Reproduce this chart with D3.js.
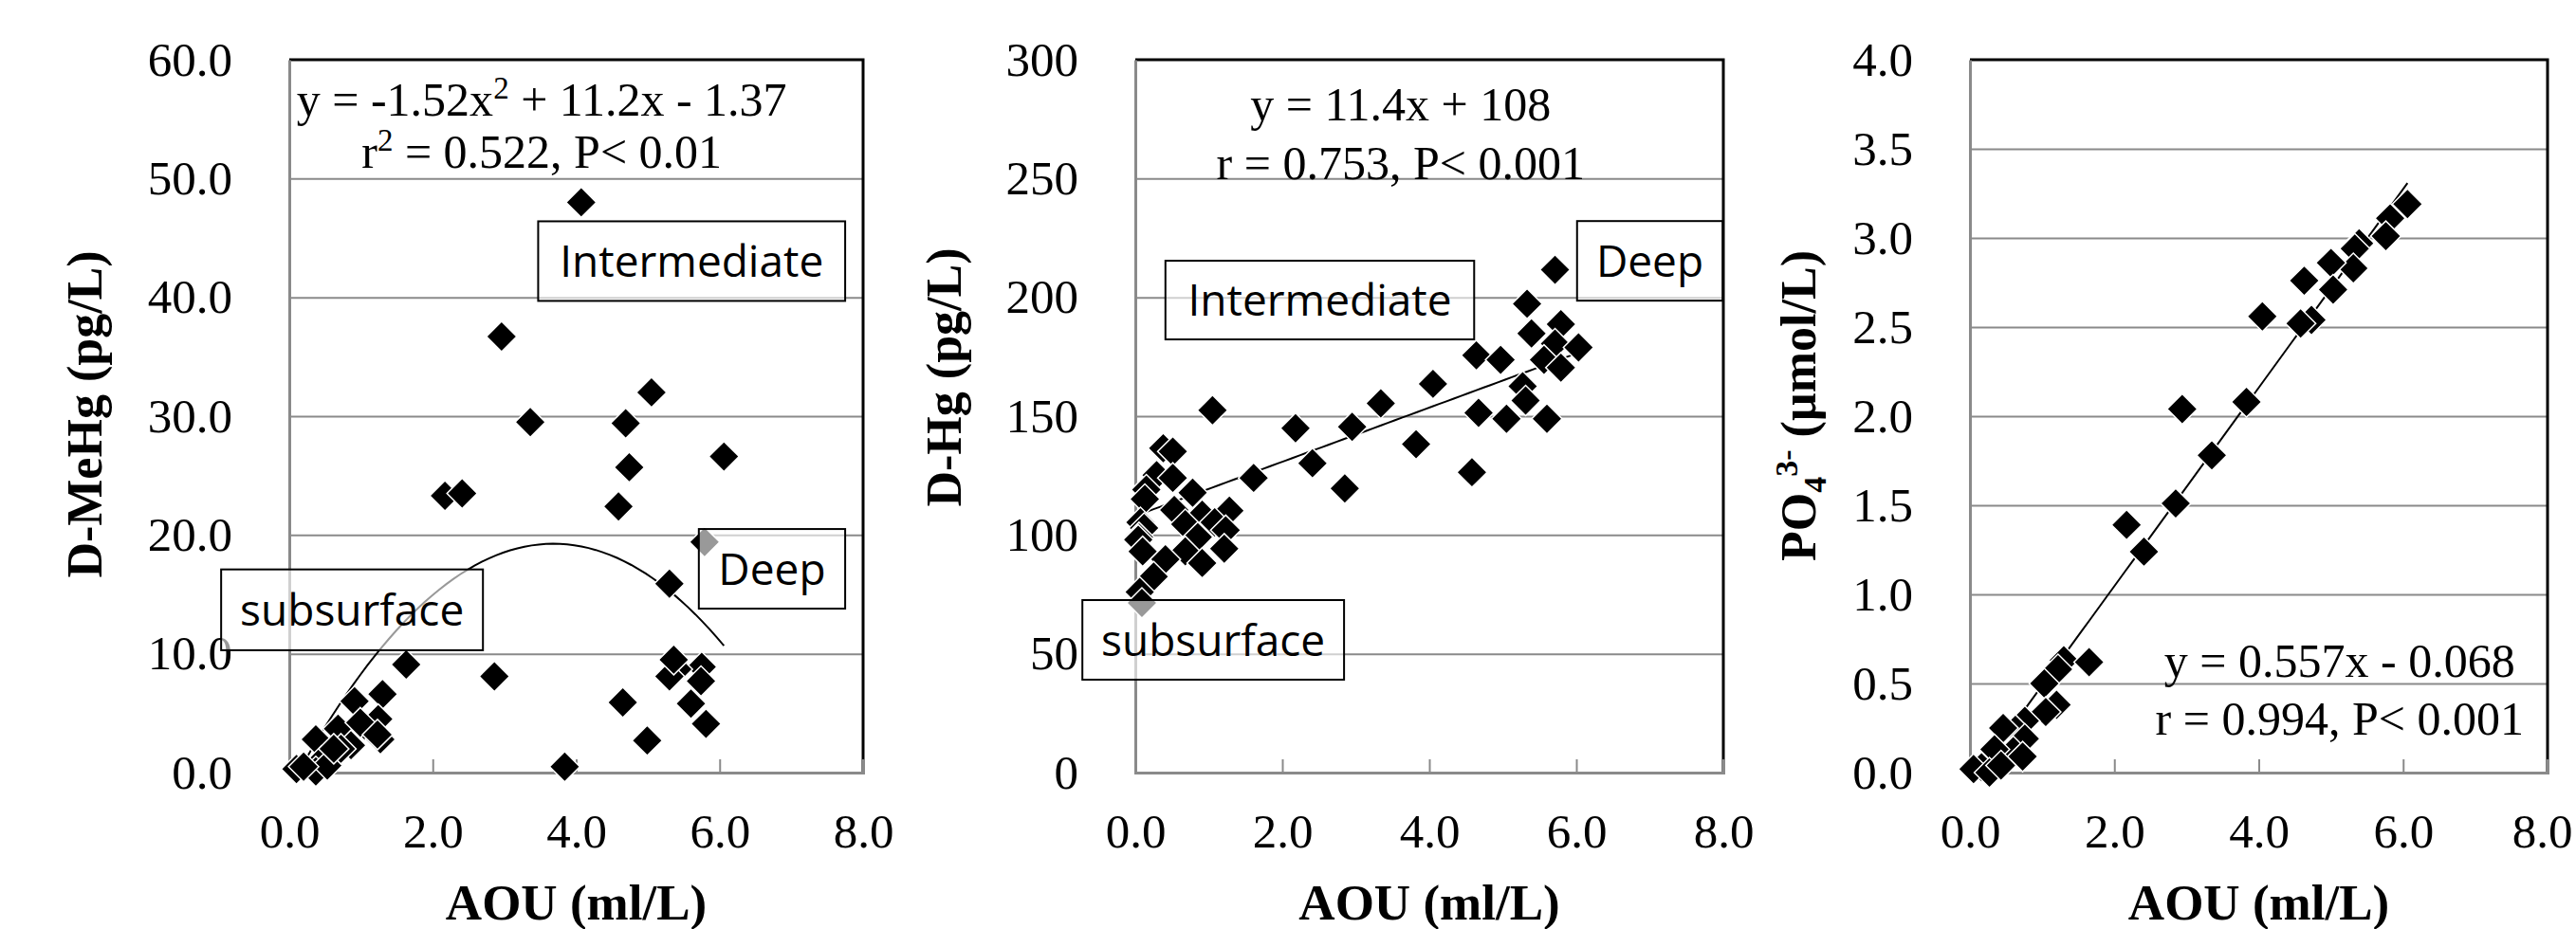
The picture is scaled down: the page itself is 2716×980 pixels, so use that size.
<!DOCTYPE html>
<html>
<head>
<meta charset="utf-8">
<script src="https://cdn.jsdelivr.net/npm/d3@7"></script>
<style>
  body { margin: 0; background: #fff; }
</style>
</head>
<body>
<div id="chart"></div>
<script>
// x axis is AOU (ml/L) for all three panels
const xTicks = [0, 2, 4, 6, 8]

// panel 1 - dissolved MeHg (pg/L)
const mehgAou = [4.07, 2.96, 3.36, 5.05, 4.69, 4.74, 6.06, 4.59, 2.17, 2.41,
  5.79, 5.30, 1.63, 2.86, 4.65, 4.99, 3.84, 5.81, 5.60, 5.75,
  5.41, 5.30, 5.36, 5.74, 1.30, 0.91, 1.06, 1.24, 1.27, 0.37,
  0.68, 0.86, 0.59, 0.45, 0.10, 0.37, 0.53, 0.20, 0.72, 0.99,
  0.62, 1.23]
const mehgVal = [48.0, 36.7, 29.5, 32.0, 29.4, 25.7, 26.6, 22.4, 23.3, 23.5,
  19.4, 15.9, 9.1, 8.1, 5.9, 2.7, 0.5, 4.1, 5.8, 8.9,
  8.7, 8.1, 9.5, 7.7, 6.6, 6.0, 3.9, 4.5, 2.8, 2.8,
  3.7, 2.3, 1.6, 1.0, 0.3, 0.1, 0.6, 0.5, 2.0, 4.2,
  2.0, 3.2]
const mehgTicks = [0, 10, 20, 30, 40, 50, 60]
const mehgFit = [-1.52, 11.2, -1.37]

// panel 2 - dissolved Hg (pg/L)
const hgAou = [5.71, 5.33, 5.79, 5.39, 5.71, 6.03, 5.56, 5.79, 4.64, 4.97,
  4.05, 5.27, 5.31, 4.67, 5.05, 5.60, 3.34, 1.05, 2.18, 2.95,
  3.82, 2.41, 1.61, 2.85, 4.58, 0.38, 0.51, 0.29, 0.51, 0.15,
  0.13, 0.78, 1.28, 0.53, 0.91, 0.07, 0.68, 1.08, 0.85, 1.23,
  0.12, 0.05, 0.04, 1.21, 0.68, 0.10, 0.41, 0.91, 0.25, 0.06,
  0.09]
const hgVal = [211.6, 197.3, 188.7, 184.8, 180.5, 178.9, 173.7, 170.4, 175.6, 173.7,
  163.6, 162.6, 156.6, 151.4, 148.9, 148.9, 155.4, 152.5, 144.9, 145.5,
  138.2, 130.2, 124.0, 119.6, 126.4, 136.5, 135.1, 125.2, 124.0, 119.1,
  115.1, 117.8, 110.2, 110.5, 108.5, 105.3, 104.5, 105.3, 99.1, 102.0,
  102.9, 99.0, 98.0, 94.2, 93.1, 93.1, 89.8, 88.2, 82.5, 76.0,
  71.4]
const hgTicks = [0, 50, 100, 150, 200, 250, 300]
const hgFit = [0, 11.4, 108]

// panel 3 - phosphate (umol/L)
const po4Aou = [6.06, 5.82, 5.76, 5.39, 5.33, 5.31, 5.00, 4.63, 5.03, 4.05,
  4.73, 4.58, 3.83, 2.94, 3.35, 2.85, 2.17, 2.41, 1.30, 1.65,
  1.22, 1.03, 1.20, 1.05, 0.76, 0.63, 0.46, 0.76, 0.60, 0.73,
  0.34, 0.16, 0.05, 0.27, 0.43]
const po4Val = [3.19, 3.11, 3.01, 2.97, 2.94, 2.83, 2.86, 2.76, 2.71, 2.56,
  2.54, 2.52, 2.08, 2.04, 1.78, 1.51, 1.39, 1.24, 0.63, 0.62,
  0.58, 0.50, 0.38, 0.34, 0.29, 0.24, 0.25, 0.19, 0.12, 0.09,
  0.13, 0.03, 0.02, 0.00, 0.04]
const po4Ticks = [0, 0.5, 1, 1.5, 2, 2.5, 3, 3.5, 4]
const po4Fit = [0, 0.557, -0.068]

const W = 2716, H = 980
const plotTop = 63, plotBottom = 815
const serif = "'Liberation Serif', 'Times New Roman', serif"
const sans = "'Open Sans', 'Noto Sans', sans-serif"
const gridGray = "#8a8a8a"
const tickSize = 51

const svg = d3.select("#chart").append("svg")
  .attr("width", W).attr("height", H)
svg.append("rect").attr("width", W).attr("height", H).attr("fill", "#fff")

// text pieces are [string, kind]: "" normal, "sup", "sub", "supAfterSub", "back"
const panels = [
  {
    xs: mehgAou, ys: mehgVal, yTicks: mehgTicks, fmt: d3.format(".1f"), fit: mehgFit,
    left: 305, right: 910, titleX: 89, titleY: 437,
    title: [["D-MeHg (pg/L)", ""]],
    eq: { x: 3.52, y: [55.3, 50.9], lines: [
      [["y = -1.52x", ""], ["2", "sup"], [" + 11.2x - 1.37", "back"]],
      [["r", ""], ["2", "sup"], [" = 0.522, P< 0.01", "back"]]] },
    boxes: [
      { text: "Intermediate", x0: 3.47, x1: 7.75, y0: 39.7, y1: 46.4 },
      { text: "Deep", x0: 5.71, x1: 7.75, y0: 13.8, y1: 20.5 },
      { text: "subsurface", x0: -0.95, x1: 2.70, y0: 10.3, y1: 17.1 }
    ]
  },
  {
    xs: hgAou, ys: hgVal, yTicks: hgTicks, fmt: d3.format("d"), fit: hgFit,
    left: 1197, right: 1817, titleX: 995, titleY: 398,
    title: [["D-Hg (pg/L)", ""]],
    eq: { x: 3.61, y: [274.4, 249.7], lines: [
      [["y = 11.4x + 108", ""]],
      [["r = 0.753, P< 0.001", ""]]] },
    boxes: [
      { text: "Intermediate", x0: 0.41, x1: 4.61, y0: 182.3, y1: 215.4 },
      { text: "Deep", x0: 6.01, x1: 7.99, y0: 198.6, y1: 232.1 },
      { text: "subsurface", x0: -0.72, x1: 2.84, y0: 39.1, y1: 72.6 }
    ]
  },
  {
    xs: po4Aou, ys: po4Val, yTicks: po4Ticks, fmt: d3.format(".1f"), fit: po4Fit,
    left: 2077, right: 2686, titleX: 1896, titleY: 428,
    title: [["PO", ""], ["4", "sub"], ["3-", "supAfterSub"], [" (\u00b5mol/L)", "back"]],
    eq: { x: 5.12, y: [0.537, 0.213], lines: [
      [["y = 0.557x - 0.068", ""]],
      [["r = 0.994, P< 0.001", ""]]] },
    boxes: []
  }
]

function writeRuns(sel, runs, size) {
  const small = Math.round(size * 0.66)
  const up = size * 0.36, down = size * 0.2
  let shift = 0
  runs.forEach(([t, kind]) => {
    const ts = sel.append("tspan").text(t)
    if (kind === "sup") { ts.attr("dy", -up).attr("font-size", small); shift = -up }
    if (kind === "sub") { ts.attr("dy", down).attr("font-size", small); shift = down }
    if (kind === "supAfterSub") { ts.attr("dy", -up - shift).attr("font-size", small); shift = -up }
    if (kind === "back") { ts.attr("dy", -shift); shift = 0 }
  })
}

panels.forEach((p, i) => {
  const w = p.right - p.left
  const x = d3.scaleLinear().domain([0, 8]).range([p.left, p.right])
  const yMax = p.yTicks[p.yTicks.length - 1]
  const y = d3.scaleLinear().domain([0, yMax]).range([plotBottom, plotTop])
  const g = svg.append("g")

  svg.append("clipPath").attr("id", "clip" + i)
    .append("rect").attr("x", p.left).attr("y", plotTop)
    .attr("width", w).attr("height", plotBottom - plotTop)

  // horizontal gridlines
  g.append("g")
    .attr("transform", `translate(${p.left},0)`)
    .call(d3.axisLeft(y).tickValues(p.yTicks.slice(1, -1)).tickSize(-w).tickFormat(""))
    .call(a => a.select(".domain").remove())
    .selectAll("line").attr("stroke", gridGray).attr("stroke-width", 2)

  // black top/right frame
  g.append("path")
    .attr("d", `M${p.left},${plotTop}H${p.right}V${plotBottom}`)
    .attr("fill", "none").attr("stroke", "#000").attr("stroke-width", 3)

  // y axis
  g.append("g")
    .attr("transform", `translate(${p.left},0)`)
    .call(d3.axisLeft(y).tickValues(p.yTicks).tickFormat(p.fmt).tickSize(0).tickPadding(60))
    .call(a => a.select(".domain").attr("stroke", gridGray).attr("stroke-width", 3))
    .selectAll("text").attr("font-family", serif).attr("font-size", tickSize).attr("fill", "#000")

  // x axis, ticks pointing inwards
  const xa = g.append("g")
    .attr("transform", `translate(0,${plotBottom})`)
    .call(d3.axisBottom(x).tickValues(xTicks).tickFormat(d3.format(".1f")).tickSize(-14).tickPadding(43))
    .call(a => a.select(".domain").attr("stroke", gridGray).attr("stroke-width", 3))
    .call(a => a.selectAll("line").attr("stroke", gridGray).attr("stroke-width", 2))
  xa.selectAll("text").attr("font-family", serif).attr("font-size", tickSize).attr("fill", "#000")
  // keep the last label inside the page
  xa.selectAll("text").each(function(d) {
    const over = x(d) + this.getComputedTextLength() / 2 - (W - 4)
    if (over > 0) d3.select(this).attr("dx", -over)
  })

  // axis titles
  g.append("text")
    .attr("x", (p.left + p.right) / 2).attr("y", 970)
    .attr("text-anchor", "middle")
    .attr("font-family", serif).attr("font-size", 53).attr("font-weight", "bold")
    .text("AOU (ml/L)")

  const yt = g.append("text")
    .attr("transform", `translate(${p.titleX},${p.titleY}) rotate(-90)`)
    .attr("text-anchor", "middle").attr("dy", "0.35em")
    .attr("font-family", serif).attr("font-size", 52).attr("font-weight", "bold")
  writeRuns(yt, p.title, 52)

  // trend line
  const [a2, a1, a0] = p.fit
  const lo = d3.min(p.xs), hi = d3.max(p.xs)
  const fitPts = d3.range(0, 61).map(k => {
    const xv = lo + (hi - lo) * k / 60
    return [xv, a2 * xv * xv + a1 * xv + a0]
  })
  g.append("path")
    .attr("clip-path", `url(#clip${i})`)
    .attr("d", d3.line().x(d => x(d[0])).y(d => y(d[1]))(fitPts))
    .attr("fill", "none").attr("stroke", "#000").attr("stroke-width", 2)

  // diamond markers
  const diamond = d3.symbol().type(d3.symbolSquare).size(512)
  g.append("g").selectAll("path")
    .data(d3.zip(p.xs, p.ys))
    .join("path")
    .attr("d", diamond)
    .attr("transform", d => `translate(${x(d[0])},${y(d[1])}) rotate(45)`)
    .attr("fill", "#000").attr("stroke", "#fff").attr("stroke-width", 1.5)

  // region labels, half transparent boxes
  p.boxes.forEach(b => {
    g.append("rect")
      .attr("x", x(b.x0)).attr("y", y(b.y1))
      .attr("width", x(b.x1) - x(b.x0)).attr("height", y(b.y0) - y(b.y1))
      .attr("fill", "#fff").attr("fill-opacity", 0.6)
      .attr("stroke", "#000").attr("stroke-width", 2)
    g.append("text")
      .attr("x", (x(b.x0) + x(b.x1)) / 2).attr("y", (y(b.y0) + y(b.y1)) / 2)
      .attr("dy", "0.36em").attr("text-anchor", "middle")
      .attr("font-family", sans).attr("font-size", 46)
      .text(b.text)
  })

  // regression equation
  p.eq.lines.forEach((runs, k) => {
    const t = g.append("text")
      .attr("x", x(p.eq.x)).attr("y", y(p.eq.y[k]))
      .attr("text-anchor", "middle")
      .attr("font-family", serif).attr("font-size", 50)
    writeRuns(t, runs, 50)
  })
})
</script>
</body>
</html>
